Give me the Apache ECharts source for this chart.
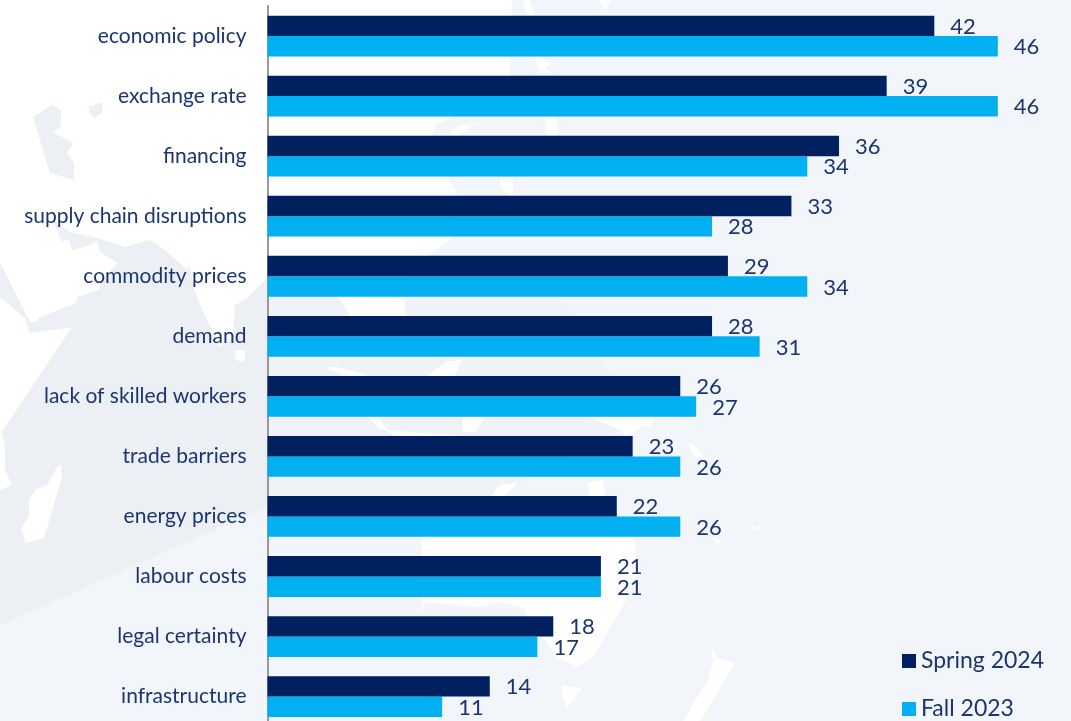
<!DOCTYPE html>
<html>
<head>
<meta charset="utf-8">
<style>html,body{margin:0;padding:0;background:#fff}#chart{width:1071px;height:721px}</style>
<script src="https://cdn.jsdelivr.net/npm/echarts@6/dist/echarts.min.js"></script>
</head>
<body>
<div id="chart"></div>
<script>
const categories = ['economic policy','exchange rate','financing','supply chain disruptions','commodity prices','demand','lack of skilled workers','trade barriers','energy prices','labour costs','legal certainty','infrastructure'];
const spring2024 = [42,39,36,33,29,28,26,23,22,21,18,14];
const fall2023 = [46,46,34,28,34,31,27,26,26,21,17,11];

const NAVY = '#00205f';
const CYAN = '#00b0f0';
const TEXT = '#1b3570';
const FONT = 'Lato, "Noto Sans", sans-serif';

// Faint world-map backdrop, drawn in page pixels behind the plot
const LAND = '#f2f5f9';
const LAND_MID = '#eff2f7';
const LAND_DARK = '#ecf0f5';
const land = [[512,0],[1071,0],[1071,721],[0,721],[0,490],[12,485],[5,470],[5,445],[2,432],[30,390],[72,327],[30,333],[25,318],[0,297],[0,263],[30,322],[37,322],[38,318],[76,303],[77,297],[99,290],[100,283],[118,263],[100,252],[97,240],[90,245],[72,250],[68,238],[62,242],[53,220],[70,232],[97,238],[125,247],[150,240],[167,252],[187,270],[189,265],[195,293],[207,320],[220,347],[233,337],[235,305],[245,300],[266,280],[300,290],[338,297],[350,316],[405,316],[390,297],[428,255],[453,237],[457,192],[447,177],[432,135],[435,125],[480,105],[510,75]];
const midBand = [[266,280],[300,290],[338,297],[350,316],[405,316],[390,297],[560,297],[640,420],[420,535],[270,505]];
const westLand = [[0,490],[12,485],[5,470],[5,445],[2,432],[30,390],[72,327],[30,333],[25,318],[0,297],[0,263],[30,322],[37,322],[38,318],[76,303],[77,297],[99,290],[100,283],[118,263],[100,252],[97,240],[90,245],[72,250],[68,238],[62,242],[53,220],[70,232],[97,238],[125,247],[150,240],[167,252],[187,270],[189,265],[195,293],[207,320],[220,347],[233,337],[235,305],[245,300],[266,280],[270,505],[0,625]];
const northIsland = [[33,117],[52,105],[61,110],[61,126],[53,132],[73,143],[67,153],[74,163],[74,180],[50,173]];
const smallIsland = [[89,107],[103,102],[102,113],[95,118],[89,113]];
const seas = [
  [[422,537],[635,537],[637,580],[628,597],[593,657],[577,667],[557,657],[528,617],[522,607],[498,602],[478,607],[425,602],[422,613]],
  [[21,528],[26,543],[44,538],[62,477],[61,465],[57,467],[47,485],[35,490],[29,500],[29,517]],
  [[235,350],[245,350],[245,360],[240,362],[235,358]],
  [[562,685],[582,688],[567,708],[563,697]],
  [[710,642],[717,658],[735,663],[700,721],[683,721],[700,693],[708,680],[713,660]],
  [[523,0],[530,0],[535,15],[527,15]],
  [[598,0],[611,0],[606,11]],
  [[535,57],[542,57],[552,66],[545,66],[552,73],[540,73]],
  [[545,117],[557,117],[558,135],[547,135]],
  [[448,135],[460,125],[475,125],[485,117],[458,135]],
  [[500,177],[513,180],[513,195],[507,195],[500,186]],
  [[325,367],[337,367],[372,376],[345,376]],
  [[428,376],[445,362],[462,360],[455,376]],
  [[368,417],[378,417],[388,430],[380,430]],
  [[385,430],[465,436],[395,436]],
  [[462,417],[485,417],[475,432],[463,432]],
  [[535,417],[655,417],[650,428],[645,426],[625,436],[620,430],[590,417]],
  [[665,427],[675,445],[679,457],[671,445]],
  [[688,443],[697,447],[702,457],[693,455]],
  [[492,496],[500,485],[518,482],[505,496]],
  [[588,482],[603,480],[605,496],[590,496]],
  [[712,537],[722,542],[717,544]],
  [[750,526],[757,527],[760,523],[760,528],[754,531]],
  [[338,297],[405,297],[405,315],[350,315]]
];
const poly = (points, fill) => ({ type: 'polygon', silent: true, z: -10, shape: { points }, style: { fill } });

const option = {
  backgroundColor: '#ffffff',
  animation: false,
  graphic: [
    poly(land, LAND),
    poly(midBand, LAND_MID),
    poly(westLand, LAND_DARK),
    poly(northIsland, LAND_DARK),
    poly(smallIsland, LAND_DARK),
    ...seas.map(s => poly(s, '#ffffff'))
  ],
  grid: { left: 267.5, top: 6, width: 803.5, height: 720.6, outerBoundsMode: 'none' },
  legend: {
    left: 902, top: 649, height: 120, padding: 0, orient: 'vertical', itemGap: 24, itemWidth: 14, itemHeight: 14,
    icon: 'rect', selectedMode: false,
    textStyle: { color: TEXT, fontSize: 23, fontFamily: FONT, lineHeight: 24 },
    data: ['Spring 2024', 'Fall 2023']
  },
  xAxis: { type: 'value', min: 0, max: 50.61, show: false },
  yAxis: {
    type: 'category', inverse: true, data: categories,
    axisLine: { show: true, lineStyle: { color: '#999999', width: 2 } },
    axisTick: { show: false },
    axisLabel: { color: TEXT, fontSize: 21, fontFamily: FONT, margin: 21, padding: [2, 0, 0, 0] }
  },
  series: [
    { name: 'Spring 2024', data: spring2024 },
    { name: 'Fall 2023', data: fall2023 }
  ].map((s, i) => ({
    ...s, type: 'bar', barWidth: 20.4, barGap: '0%',
    itemStyle: { color: i === 0 ? NAVY : CYAN },
    z: 2 - i,
    label: { show: true, position: 'right', distance: 16, offset: [0, 1], color: TEXT, fontSize: 22, fontFamily: FONT }
  }))
};
echarts.init(document.getElementById('chart'), null, { renderer: 'canvas' }).setOption(option);
</script>
</body>
</html>
